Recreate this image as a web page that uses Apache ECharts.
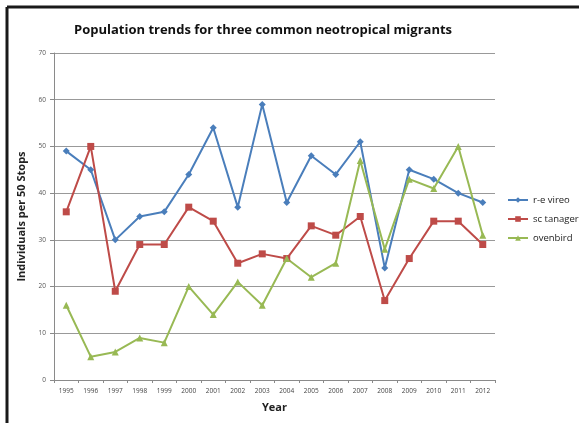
<!DOCTYPE html>
<html>
<head>
<meta charset="utf-8">
<script src="https://cdn.jsdelivr.net/npm/echarts@6/dist/echarts.min.js"></script>
<style>
  html, body { margin: 0; padding: 0; background: #fff; }
  #chart { width: 579px; height: 423px; }
</style>
</head>
<body>
<div id="chart"></div>
<script>
// Survey years (x-axis categories)
const years = ['1995','1996','1997','1998','1999','2000','2001','2002','2003','2004','2005','2006','2007','2008','2009','2010','2011','2012'];

// Individuals per 50 stops, by species
const reVireo   = [49, 45, 30, 35, 36, 44, 54, 37, 59, 38, 48, 44, 51, 24, 45, 43, 40, 38];
const scTanager = [36, 50, 19, 29, 29, 37, 34, 25, 27, 26, 33, 31, 35, 17, 26, 34, 34, 29];
const ovenbird  = [16, 5, 6, 9, 8, 20, 14, 21, 16, 26, 22, 25, 47, 28, 43, 41, 50, 31];

const yTicks = [0, 10, 20, 30, 40, 50, 60, 70];

const font = '"Open Sans", "Liberation Sans", sans-serif';

const chart = echarts.init(document.getElementById('chart'), null, { renderer: 'canvas' });

function series(name, data, color, symbol, size) {
  return {
    name, type: 'line', data,
    symbol, symbolSize: size,
    lineStyle: { color, width: 2 },
    itemStyle: { color },
    emphasis: { disabled: true },
    animation: false
  };
}

chart.setOption({
  animation: false,
  title: {
    text: 'Population trends for three common neotropical migrants',
    left: 69, top: 19,
    textStyle: { fontFamily: font, fontSize: 13, fontWeight: 'bold', color: '#111' }
  },
  legend: {
    orient: 'vertical',
    left: 502, top: 190,
    itemWidth: 20, itemHeight: 7, itemGap: 9,
    textStyle: { fontFamily: font, fontSize: 9.5, color: '#222' },
    data: ['r-e vireo', 'sc tanager', 'ovenbird']
  },
  grid: { left: 54, top: 53, right: 84, bottom: 43 },
  xAxis: {
    type: 'category',
    data: years,
    boundaryGap: true,
    name: 'Year',
    nameLocation: 'middle',
    nameGap: 22,
    nameTextStyle: { fontFamily: font, fontSize: 11, fontWeight: 'bold', color: '#222' },
    axisLine: { lineStyle: { color: '#8a8a8a', width: 1 } },
    axisTick: { show: true, alignWithLabel: false, length: 3, lineStyle: { color: '#8a8a8a' } },
    axisLabel: { fontFamily: font, fontSize: 6.5, color: '#444', margin: 8, interval: 0 }
  },
  yAxis: {
    type: 'value',
    min: yTicks[0], max: yTicks[yTicks.length - 1], interval: 10,
    name: 'Individuals per 50 Stops',
    nameLocation: 'middle',
    nameGap: 23,
    nameTextStyle: { fontFamily: font, fontSize: 11, fontWeight: 'bold', color: '#222' },
    axisLine: { show: true, lineStyle: { color: '#8a8a8a', width: 1 } },
    axisTick: { show: true, inside: false, length: 4, lineStyle: { color: '#8a8a8a' } },
    axisLabel: { fontFamily: font, fontSize: 6.5, color: '#555', margin: 8 },
    splitLine: { show: true, lineStyle: { color: '#999999', width: 1 } }
  },
  series: [
    series('r-e vireo', reVireo, '#4a7ebb', 'diamond', 7),
    series('sc tanager', scTanager, '#be4b48', 'rect', 7),
    series('ovenbird', ovenbird, '#98b954', 'triangle', 7)
  ],
  graphic: [
    // dark frame along the top and left edges
    { type: 'line', shape: { x1: 7, y1: 7, x2: 579, y2: 7 }, style: { stroke: '#1a1a1a', lineWidth: 3 }, silent: true },
    { type: 'line', shape: { x1: 7, y1: 7, x2: 7, y2: 423 }, style: { stroke: '#1a1a1a', lineWidth: 3 }, silent: true }
  ]
});
</script>
</body>
</html>
